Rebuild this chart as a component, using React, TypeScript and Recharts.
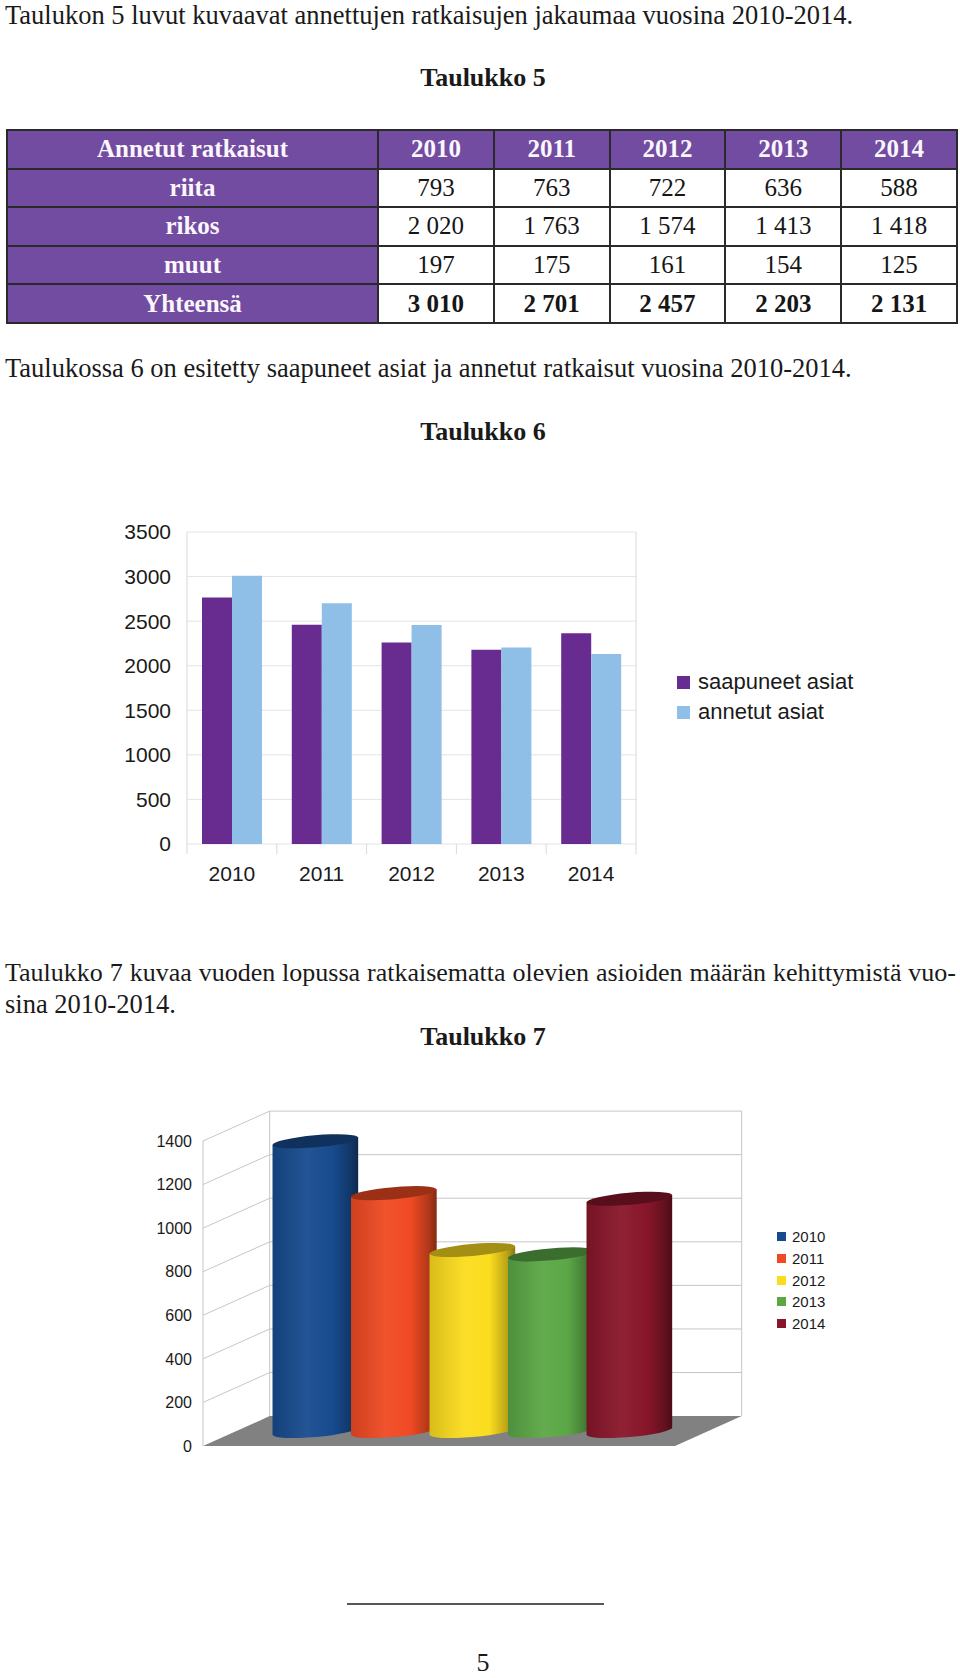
import React from "react";
import { BarChart, Bar, XAxis, YAxis, CartesianGrid, Legend } from "recharts";

const years = ["2010", "2011", "2012", "2013", "2014"];

// Taulukko 5
const rowLabels = ["riita", "rikos", "muut"];
const riita = ["793", "763", "722", "636", "588"];
const rikos = ["2 020", "1 763", "1 574", "1 413", "1 418"];
const muut = ["197", "175", "161", "154", "125"];
const yhteensa = ["3 010", "2 701", "2 457", "2 203", "2 131"];

// Taulukko 6
const saapuneet = [2765, 2460, 2260, 2180, 2365];
const annetut = [3010, 2701, 2457, 2203, 2131];
const ticks6 = [0, 500, 1000, 1500, 2000, 2500, 3000, 3500];
const series6 = ["saapuneet asiat", "annetut asiat"];
const colors6 = ["#682c90", "#8fbee6"];

// Taulukko 7
const ratkaisematta = [1330, 1092, 831, 811, 1066];
const ticks7 = [0, 200, 400, 600, 800, 1000, 1200, 1400];
const colors7 = ["#174b8e", "#ef4a23", "#fbdc1e", "#5ba746", "#88162a"];

const SERIF = '"Liberation Serif", "DejaVu Serif", serif';
const SANS = '"Liberation Sans", Arial, sans-serif';
const PURPLE = "#714ca0";

const data6 = years.map((y, i) => ({
  year: y,
  "saapuneet asiat": saapuneet[i],
  "annetut asiat": annetut[i],
}));

const data7 = [
  years.reduce((o: any, y, i) => ({ ...o, [y]: ratkaisematta[i] }), { name: "Taulukko 7" }),
];

// 3D box depth (back wall offset from the front plane)
const DX = 66.7;
const DY = -29.9;

function shade(hex: string, amt: number) {
  const n = parseInt(hex.slice(1), 16);
  const ch = [(n >> 16) & 255, (n >> 8) & 255, n & 255].map((c) => {
    const v = amt < 0 ? c * (1 + amt) : c + (255 - c) * amt;
    return Math.round(Math.max(0, Math.min(255, v)));
  });
  return "#" + ch.map((c) => c.toString(16).padStart(2, "0")).join("");
}

// text line placed by its baseline
function Line({ base, left = 5, size = 26.5, lh, bold = false, center = false, width, justify = false, children }: any) {
  const L = lh || size;
  const off = (L - 1.107 * size) / 2 + 0.891 * size;
  return (
    <div
      style={{
        position: "absolute",
        top: base - off,
        left: center ? 3 : left,
        width: center ? 960 : width,
        textAlign: center ? "center" : justify ? "justify" : "left",
        textAlignLast: justify ? "justify" : undefined,
        fontSize: size,
        lineHeight: `${L}px`,
        fontWeight: bold ? 700 : 400,
        whiteSpace: "nowrap",
      }}
    >
      {children}
    </div>
  );
}

function Table5() {
  const cell: React.CSSProperties = {
    border: "2px solid #2a2a2a",
    padding: 0,
    height: 36.6,
    textAlign: "center",
    verticalAlign: "middle",
    fontSize: 25,
  };
  const head: React.CSSProperties = { ...cell, background: PURPLE, color: "#fbf6fb", fontWeight: 700 };
  const rows = [riita, rikos, muut];
  return (
    <table
      style={{
        position: "absolute",
        left: 6,
        top: 129,
        width: 950,
        borderCollapse: "collapse",
        tableLayout: "fixed",
        fontFamily: SERIF,
        color: "#161616",
      }}
    >
      <colgroup>
        <col style={{ width: 371 }} />
        {years.map((y) => (
          <col key={y} style={{ width: 115.8 }} />
        ))}
      </colgroup>
      <tbody>
        <tr>
          <td style={head}>Annetut ratkaisut</td>
          {years.map((y) => (
            <td key={y} style={head}>{y}</td>
          ))}
        </tr>
        {rows.map((r, ri) => (
          <tr key={rowLabels[ri]}>
            <td style={head}>{rowLabels[ri]}</td>
            {r.map((v, i) => (
              <td key={i} style={cell}>{v}</td>
            ))}
          </tr>
        ))}
        <tr>
          <td style={head}>Yhteensä</td>
          {yhteensa.map((v, i) => (
            <td key={i} style={{ ...cell, fontWeight: 700 }}>{v}</td>
          ))}
        </tr>
      </tbody>
    </table>
  );
}

// chart 6: plot frame drawn with the horizontal grid
function FrameLine(props: any) {
  const { x1, x2, y1, y, height } = props;
  const isTop = Math.abs(y1 - y) < 0.5;
  const bottom = y + height;
  return (
    <g>
      <line x1={x1} y1={y1} x2={x2} y2={y1} stroke="#e3e3ea" strokeWidth={1} />
      {isTop && <line x1={x1} y1={y} x2={x1} y2={bottom + 10} stroke="#d8d8e0" />}
      {isTop && <line x1={x2} y1={y} x2={x2} y2={bottom + 10} stroke="#d8d8e0" />}
    </g>
  );
}

function YearTick(props: any) {
  const { x, y, payload, index } = props;
  const half = payload && payload.offset ? payload.offset : 45;
  return (
    <g>
      {index > 0 && <line x1={x - half} y1={y} x2={x - half} y2={y + 10} stroke="#d8d8e0" />}
      <text x={x} y={y + 37} textAnchor="middle" fontSize={21} fontFamily={SANS} fill="#1a1a1a">
        {payload.value}
      </text>
    </g>
  );
}

function Legend6(props: any) {
  const items = [...(props.payload || [])].sort(
    (a: any, b: any) => series6.indexOf(a.value) - series6.indexOf(b.value)
  );
  return (
    <div style={{ fontFamily: SANS, fontSize: 22, color: "#1a1a1a" }}>
      {items.map((e: any) => (
        <div key={e.value} style={{ display: "flex", alignItems: "center", height: 30, whiteSpace: "nowrap" }}>
          <span style={{ display: "inline-block", width: 13, height: 13, background: e.color, marginRight: 8 }} />
          <span>{e.value}</span>
        </div>
      ))}
    </div>
  );
}

// chart 7: left wall, back wall and floor drawn from the horizontal grid
function WallLine(props: any) {
  const { x1, x2, y1, y, height } = props;
  const bottom = y + height;
  const isBottom = Math.abs(y1 - bottom) < 0.5;
  const isTop = Math.abs(y1 - y) < 0.5;
  const stroke = "#c6c6c6";
  if (isBottom) {
    return (
      <polygon
        points={`${x1},${y1} ${x2},${y1} ${x2 + DX},${y1 + DY} ${x1 + DX},${y1 + DY}`}
        fill="#818181"
      />
    );
  }
  return (
    <g>
      <polyline
        points={`${x1},${y1} ${x1 + DX},${y1 + DY} ${x2 + DX},${y1 + DY}`}
        fill="none"
        stroke={stroke}
      />
      {isTop && <line x1={x1 + DX} y1={y1 + DY} x2={x1 + DX} y2={bottom + DY} stroke={stroke} />}
      {isTop && <line x1={x2 + DX} y1={y1 + DY} x2={x2 + DX} y2={bottom + DY} stroke={stroke} />}
    </g>
  );
}

function Cylinder(props: any) {
  const { x, y, width, height, color, idx } = props;
  if (width == null || height == null || !isFinite(y)) return null;
  const rx = width / 2;
  const ry = 6;
  const cx = x + rx + DX / 2;
  const top = y + DY / 2;
  const bot = y + height + DY / 2;
  const t = (5 * Math.PI) / 180;
  const ex = rx * Math.cos(t);
  const ey = rx * Math.sin(t);
  const gid = `cyl-${idx}`;
  const d = `M${cx - ex},${top + ey} L${cx - ex},${bot + ey} A${rx},${ry} -5 0 0 ${cx + ex},${bot - ey} L${cx + ex},${top - ey} Z`;
  return (
    <g>
      <defs>
        <linearGradient id={gid} x1="0" y1="0" x2="1" y2="0">
          <stop offset="0" stopColor={shade(color, -0.14)} />
          <stop offset="0.4" stopColor={shade(color, 0.05)} />
          <stop offset="0.7" stopColor={color} />
          <stop offset="0.9" stopColor={shade(color, -0.25)} />
          <stop offset="1" stopColor={shade(color, -0.45)} />
        </linearGradient>
      </defs>
      <path d={d} fill={`url(#${gid})`} />
      <ellipse
        cx={cx}
        cy={top}
        rx={rx}
        ry={ry}
        transform={`rotate(-5 ${cx} ${top})`}
        fill={shade(color, -0.35)}
      />
    </g>
  );
}

function Legend7(props: any) {
  const items = [...(props.payload || [])].sort(
    (a: any, b: any) => years.indexOf(String(a.value)) - years.indexOf(String(b.value))
  );
  return (
    <div style={{ fontFamily: SANS, fontSize: 15, color: "#1a1a1a" }}>
      {items.map((e: any) => (
        <div key={e.value} style={{ display: "flex", alignItems: "center", height: 21.65, whiteSpace: "nowrap" }}>
          <span style={{ display: "inline-block", width: 9, height: 9, background: e.color, marginRight: 6 }} />
          <span>{e.value}</span>
        </div>
      ))}
    </div>
  );
}

export default function App() {
  return (
    <div
      style={{
        position: "absolute",
        left: 0,
        top: 0,
        width: 960,
        height: 1678,
        background: "#ffffff",
        overflow: "hidden",
        fontFamily: SERIF,
        color: "#1a1a1a",
      }}
    >
      <Line base={24}>Taulukon 5 luvut kuvaavat annettujen ratkaisujen jakaumaa vuosina 2010-2014.</Line>
      <Line base={86.6} size={26} bold center>Taulukko 5</Line>
      <Table5 />
      <Line base={377}>Taulukossa 6 on esitetty saapuneet asiat ja annetut ratkaisut vuosina 2010-2014.</Line>
      <Line base={440.6} size={26} bold center>Taulukko 6</Line>

      <div style={{ position: "absolute", left: 0, top: 480 }}>
        <BarChart
          width={960}
          height={420}
          data={data6}
          margin={{ top: 52, right: 324, bottom: 16, left: 127 }}
          barCategoryGap="16.7%"
          barGap={0}
        >
          <CartesianGrid vertical={false} horizontal={(p: any) => <FrameLine {...p} />} />
          <XAxis
            dataKey="year"
            height={40}
            axisLine={false}
            tickLine={false}
            tickSize={0}
            tickMargin={0}
            interval={0}
            tick={(p: any) => <YearTick {...p} />}
          />
          <YAxis
            width={60}
            domain={[0, 3500]}
            ticks={ticks6}
            interval={0}
            axisLine={false}
            tickLine={false}
            tickMargin={10}
            tick={{ fontSize: 21, fill: "#1a1a1a", fontFamily: SANS }}
          />
          <Legend
            layout="vertical"
            align="center"
            verticalAlign="middle"
            wrapperStyle={{ left: 677, top: 187, width: 260 }}
            content={(p: any) => <Legend6 {...p} />}
          />
          {series6.map((s, i) => (
            <Bar key={s} dataKey={s} name={s} fill={colors6[i]} isAnimationActive={false} />
          ))}
        </BarChart>
      </div>

      <Line base={982} size={26} width={951} justify>
        Taulukko 7 kuvaa vuoden lopussa ratkaisematta olevien asioiden määrän kehittymistä vuo-
      </Line>
      <Line base={1013}>sina 2010-2014.</Line>
      <Line base={1045.6} size={26} bold center>Taulukko 7</Line>

      <div style={{ position: "absolute", left: 0, top: 1080 }}>
        <BarChart
          width={960}
          height={400}
          data={data7}
          margin={{ top: 61, right: 285, bottom: 34, left: 153 }}
          barGap={-7.5}
        >
          <CartesianGrid vertical={false} horizontal={(p: any) => <WallLine {...p} />} />
          <XAxis dataKey="name" hide height={0} />
          <YAxis
            width={50}
            domain={[0, 1400]}
            ticks={ticks7}
            interval={0}
            axisLine={{ stroke: "#c6c6c6" }}
            tickLine={false}
            tickMargin={5}
            tick={{ fontSize: 16, fill: "#1a1a1a", fontFamily: SANS }}
          />
          <Legend
            layout="vertical"
            align="center"
            verticalAlign="middle"
            wrapperStyle={{ left: 777, top: 146, width: 120 }}
            content={(p: any) => <Legend7 {...p} />}
          />
          {years.map((y, i) => (
            <Bar
              key={y}
              dataKey={y}
              name={y}
              fill={colors7[i]}
              barSize={86}
              isAnimationActive={false}
              shape={(p: any) => <Cylinder {...p} color={colors7[i]} idx={i} />}
            />
          ))}
        </BarChart>
      </div>

      <div style={{ position: "absolute", left: 347, top: 1603, width: 257, height: 2, background: "#575757" }} />
      <Line base={1671.5} size={26} lh={20} center>5</Line>
    </div>
  );
}
